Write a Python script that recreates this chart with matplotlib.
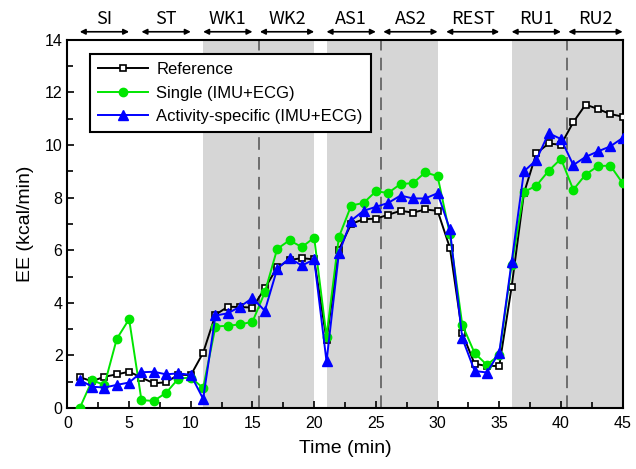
import matplotlib
matplotlib.use("Agg")
import matplotlib.pyplot as plt
import matplotlib.transforms as mtransforms
import numpy as np

plt.rcParams['font.family'] = ['Liberation Sans', 'DejaVu Sans']

# === data (EE per minute) ===
minutes = list(range(1, 46))
reference = [1.17, 1.02, 1.19, 1.28, 1.38, 1.16, 0.94, 0.98, 1.27, 1.25,
             2.10, 3.55, 3.85, 3.84, 3.82, 4.55, 5.35, 5.63, 5.70, 5.65,
             2.60, 6.02, 7.00, 7.18, 7.20, 7.35, 7.50, 7.43, 7.55, 7.50,
             6.09, 2.85, 1.68, 1.60, 1.60, 4.60, 8.17, 9.68, 10.06, 10.01,
             10.87, 11.54, 11.37, 11.18, 11.08]
single = [0.00, 1.05, 0.88, 2.63, 3.38, 0.30, 0.27, 0.58, 1.12, 1.16,
          0.76, 3.10, 3.13, 3.18, 3.28, 4.40, 6.05, 6.38, 6.12, 6.48,
          2.72, 6.50, 7.70, 7.80, 8.24, 8.18, 8.52, 8.55, 8.96, 8.82,
          6.60, 3.17, 2.09, 1.64, 2.02, 5.43, 8.22, 8.45, 9.02, 9.48,
          8.30, 8.88, 9.20, 9.22, 8.55]
activity = [1.07, 0.81, 0.78, 0.88, 0.97, 1.36, 1.38, 1.28, 1.32, 1.26,
            0.35, 3.52, 3.60, 3.86, 4.18, 3.70, 5.29, 5.70, 5.42, 5.65,
            1.77, 5.88, 7.13, 7.50, 7.65, 7.80, 8.08, 7.97, 7.97, 8.17,
            6.79, 2.66, 1.41, 1.35, 2.11, 5.55, 9.00, 9.43, 10.45, 10.23,
            9.24, 9.55, 9.76, 9.95, 10.27]

# 활동 구간 (label, start, end)
phase_names = ['SI', 'ST', 'WK1', 'WK2', 'AS1', 'AS2', 'REST', 'RU1', 'RU2']
phase_start = [1, 6, 11, 15.6, 21, 25.6, 30.7, 36, 40.6]
phase_end = [5, 10, 15, 20, 25, 30, 35, 40, 45]
shaded = [(11, 20), (21, 30), (36, 45)]
dashed = [15.5, 25.4, 40.5]

fig = plt.figure(figsize=(6.36, 4.69), dpi=100)
ax = fig.add_axes([0.106, 0.130, 0.873, 0.785])

for a, b in shaded:
    ax.axvspan(a, b, color='#d6d6d6', lw=0, zorder=0)
for x in dashed:
    ax.axvline(x, color='#666666', lw=1.3, ls=(0, (7, 4)), zorder=1)

ax.plot(minutes, reference, color='black', lw=1.4, marker='s', ms=5,
        mfc='white', mec='black', mew=1.2, label='Reference', zorder=3)
ax.plot(minutes, single, color='#00e600', lw=1.4, marker='o', ms=6,
        label='Single (IMU+ECG)', zorder=4)
ax.plot(minutes, activity, color='#0000ff', lw=1.4, marker='^', ms=7,
        label='Activity-specific (IMU+ECG)', zorder=5)

ax.set_xlim(0, 45)
ax.set_ylim(0, 14)
ax.set_xticks(np.arange(0, 46, 5))
ax.set_xticks(np.arange(0, 46, 2.5), minor=True)
ax.set_yticks(np.arange(0, 15, 2))
ax.set_yticks(np.arange(0, 15, 1), minor=True)
ax.tick_params(which='both', direction='in', width=1.2, labelsize=11.5,
               top=False, right=False)
ax.tick_params(which='major', length=5)
ax.tick_params(which='minor', length=4)
ax.tick_params(axis='x', pad=6)
for s in ax.spines.values():
    s.set_linewidth(1.5)

ax.set_xlabel('Time (min)', fontsize=14, labelpad=6)
ax.set_ylabel('EE (kcal/min)', fontsize=14, labelpad=8)

leg = ax.legend(loc='upper left', bbox_to_anchor=(0.040, 0.962),
                borderaxespad=0, fancybox=False, framealpha=1,
                edgecolor='black', fontsize=12, handlelength=3.0,
                handletextpad=0.5, borderpad=0.5, labelspacing=0.5)
leg.get_frame().set_linewidth(1.5)

# 구간 화살표 + 이름
trans = mtransforms.blended_transform_factory(ax.transData, ax.transAxes)
for name, a, b in zip(phase_names, phase_start, phase_end):
    ax.annotate('', xy=(a, 1.022), xytext=(b, 1.022), xycoords=trans,
                textcoords=trans, annotation_clip=False,
                arrowprops=dict(arrowstyle='<|-|>', color='black', lw=1.2,
                                mutation_scale=8, shrinkA=0, shrinkB=0))
    ax.text((a + b) / 2, 1.056, name, transform=trans, ha='center',
            va='center', fontsize=13, family=['Noto Sans CJK KR', 'DejaVu Sans'])

fig.savefig('out.png', dpi=100)
